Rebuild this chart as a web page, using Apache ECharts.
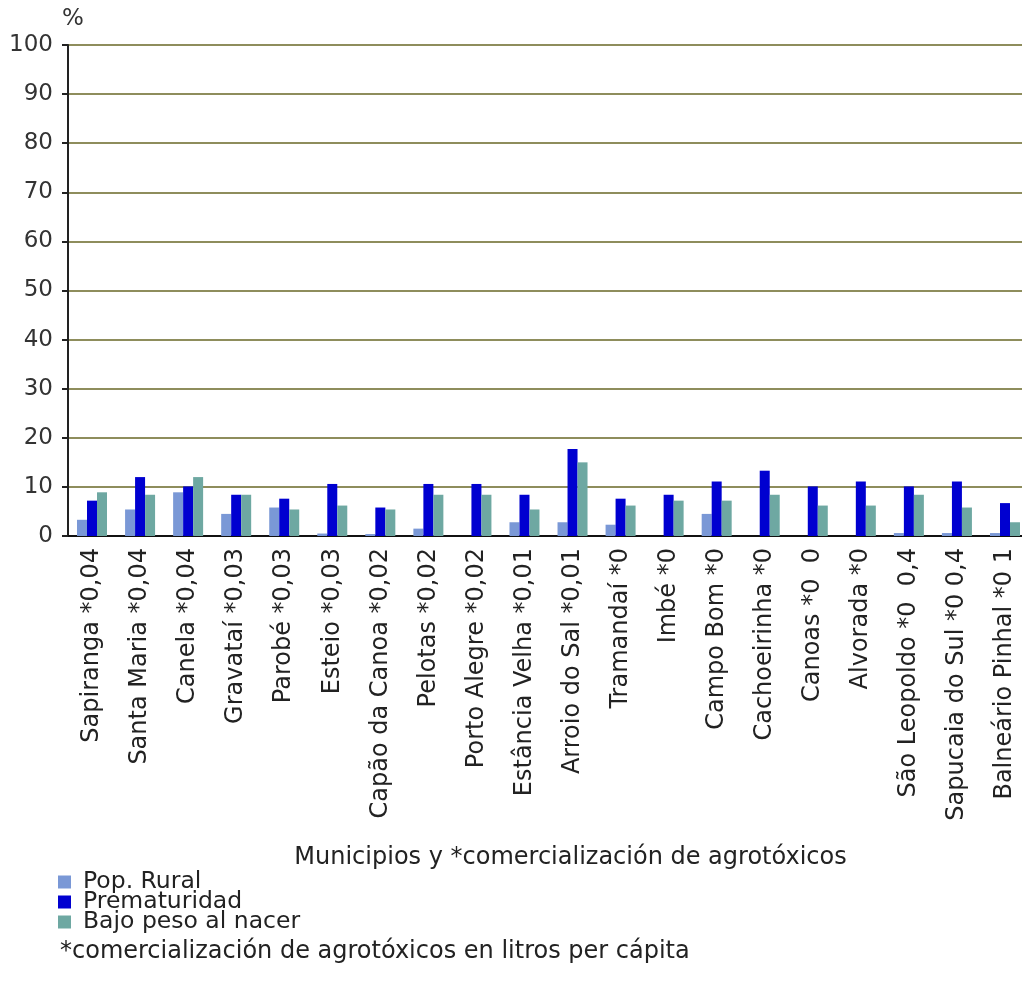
<!DOCTYPE html>
<html>
<head>
<meta charset="utf-8">
<script src="https://cdn.jsdelivr.net/npm/echarts@6/dist/echarts.min.js"></script>
<style>
html,body{margin:0;padding:0;background:#fff;}
#chart{width:1022px;height:988px;}
</style>
</head>
<body>
<div id="chart"></div>
<script>
const categories = [
  "Sapiranga *0,04", "Santa Maria *0,04", "Canela *0,04", "Gravataí *0,03", "Parobé *0,03",
  "Esteio *0,03", "Capão da Canoa *0,02", "Pelotas *0,02", "Porto Alegre *0,02", "Estância Velha *0,01",
  "Arroio do Sal *0,01", "Tramandaí *0", "Imbé *0", "Campo Bom *0", "Cachoeirinha *0",
  "Canoas *0  0", "Alvorada *0", "São Leopoldo *0  0,4", "Sapucaia do Sul *0 0,4", "Balneário Pinhal *0 1"
];
const popRural     = [3.3, 5.4, 8.9, 4.5, 5.8, 0.5, 0.4, 1.5, 0, 2.8, 2.8, 2.3, 0, 4.5, 0, 0, 0, 0.6, 0.6, 0.6];
const prematuridad = [7.2, 12.0, 10.1, 8.4, 7.6, 10.6, 5.8, 10.6, 10.6, 8.4, 17.7, 7.6, 8.4, 11.1, 13.3, 10.1, 11.1, 10.1, 11.1, 6.7];
const bajoPeso     = [8.9, 8.4, 12.0, 8.4, 5.4, 6.2, 5.4, 8.4, 8.4, 5.4, 15.0, 6.2, 7.2, 7.2, 8.4, 6.2, 6.2, 8.4, 5.8, 2.8];
const seriesNames  = ["Pop. Rural", "Prematuridad", "Bajo peso al nacer"];
const yTicks = {min: 0, max: 100, interval: 10};
const xAxisTitle = "Municipios y *comercialización de agrotóxicos";
const footnote = "*comercialización de agrotóxicos en litros per cápita";

const FONT = "'DejaVu Sans', Verdana, sans-serif";
const colors = ['#7a98d6', '#0000d0', '#6ea8a2'];

const chart = echarts.init(document.getElementById('chart'), null, {renderer: 'canvas'});
chart.setOption({
  backgroundColor: '#ffffff',
  animation: false,
  color: colors,
  textStyle: {fontFamily: FONT},
  grid: {left: 68, top: 45, width: 961, height: 491, containLabel: false, outerBoundsMode: 'none'},
  legend: {
    orient: 'vertical',
    left: 58, top: 870,
    padding: 0,
    itemGap: -4,
    itemWidth: 13, itemHeight: 13,
    icon: 'rect',
    selectedMode: false,
    data: seriesNames,
    textStyle: {fontFamily: FONT, fontSize: 23.5, color: '#222', padding: [0, 0, 0, 7]}
  },
  graphic: [{
    type: 'text', left: 60, top: 940,
    style: {text: footnote, font: '24px ' + FONT, fill: '#222'}
  }],
  xAxis: {
    type: 'category',
    data: categories,
    name: xAxisTitle,
    nameLocation: 'middle',
    nameGap: 310,
    nameTextStyle: {fontFamily: FONT, fontSize: 24, color: '#222', padding: [0, 0, 0, 44]},
    axisLine: {lineStyle: {color: '#111', width: 2}},
    axisTick: {show: false},
    axisLabel: {rotate: 90, margin: 12, fontFamily: FONT, fontSize: 24, color: '#222', interval: 0}
  },
  yAxis: {
    type: 'value',
    min: yTicks.min, max: yTicks.max, interval: yTicks.interval,
    name: '%',
    nameLocation: 'end',
    nameGap: 14,
    nameTextStyle: {fontFamily: FONT, fontSize: 23, color: '#333', align: 'center', padding: [0, 0, 0, 10]},
    axisLine: {show: true, lineStyle: {color: '#222', width: 2}},
    axisTick: {show: true, length: 6, lineStyle: {color: '#222', width: 2}},
    axisLabel: {margin: 15, fontFamily: FONT, fontSize: 23, color: '#333'},
    splitLine: {show: true, lineStyle: {color: '#8e8d5c', width: 2}}
  },
  series: [
    {name: seriesNames[0], type: 'bar', data: popRural, barWidth: 10, barGap: '0%'},
    {name: seriesNames[1], type: 'bar', data: prematuridad, barWidth: 10, barGap: '0%'},
    {name: seriesNames[2], type: 'bar', data: bajoPeso, barWidth: 10, barGap: '0%'}
  ]
});
</script>
</body>
</html>
